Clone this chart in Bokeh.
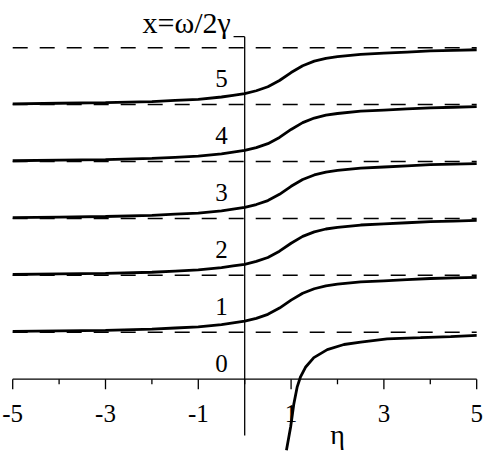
from bokeh.plotting import figure
from bokeh.models import Range1d, ColumnDataSource
from bokeh.core.properties import value
from bokeh.embed import file_html
from bokeh.resources import INLINE

# ---- data ----
eta = [-5, -4, -3, -2, -1.5, -1, -0.5, -0.25, 0, 0.25, 0.5, 0.75, 1.0, 1.25, 1.5, 1.75, 2.0, 2.5, 3.0, 3.5, 4.0, 4.5, 5.0]
curve1 = [0.84, 0.85, 0.86, 0.88, 0.90, 0.92, 0.96, 0.99, 1.02, 1.07, 1.14, 1.25, 1.39, 1.51, 1.59, 1.64, 1.67, 1.71, 1.73, 1.75, 1.77, 1.78, 1.79]
curve2 = [1.84, 1.85, 1.86, 1.88, 1.90, 1.92, 1.96, 1.99, 2.02, 2.07, 2.14, 2.25, 2.39, 2.51, 2.59, 2.64, 2.67, 2.71, 2.73, 2.75, 2.77, 2.78, 2.79]
curve3 = [2.84, 2.85, 2.86, 2.88, 2.90, 2.92, 2.96, 2.99, 3.02, 3.07, 3.14, 3.25, 3.39, 3.51, 3.59, 3.64, 3.67, 3.71, 3.73, 3.75, 3.77, 3.78, 3.79]
curve4 = [3.84, 3.85, 3.86, 3.88, 3.90, 3.92, 3.96, 3.99, 4.02, 4.07, 4.14, 4.25, 4.39, 4.51, 4.59, 4.64, 4.67, 4.71, 4.73, 4.75, 4.77, 4.78, 4.79]
curve5 = [4.84, 4.85, 4.86, 4.88, 4.90, 4.92, 4.96, 4.99, 5.02, 5.07, 5.14, 5.25, 5.39, 5.51, 5.59, 5.64, 5.67, 5.71, 5.73, 5.75, 5.77, 5.78, 5.79]

eta0 = [0.90, 0.99, 1.06, 1.13, 1.20, 1.31, 1.49, 1.78, 2.14, 2.50, 3.07, 3.79, 4.44, 5.0]
curve0 = [-1.25, -0.84, -0.43, -0.14, 0.035, 0.21, 0.38, 0.52, 0.61, 0.65, 0.71, 0.73, 0.75, 0.77]

asymptotes = [0.826, 1.826, 2.826, 3.826, 4.826, 5.826]
level_labels = ["0", "1", "2", "3", "4", "5"]
level_values = [0, 1, 2, 3, 4, 5]
x_major_ticks = [-5, -3, -1, 1, 3, 5]
x_minor_ticks = [-4, -2, 0, 2, 4]
x_tick_labels = ["-5", "-3", "-1", "1", "3", "5"]
eta_min, eta_max = -5, 5
yaxis_bottom, yaxis_top = -0.99, 6.02

FONT = value("Liberation Serif")
PX_PER_Y = 56.9  # screen pixels per y unit (for tick length conversion)

p = figure(width=485, height=452, output_backend="svg", toolbar_location=None,
           x_range=Range1d(-5.263, 5.19), y_range=Range1d(-1.288, 6.656),
           x_axis_type=None, y_axis_type=None, min_border=0)
p.outline_line_color = None
p.grid.visible = False
p.background_fill_color = "white"

# dashed asymptotes
for a in asymptotes:
    p.line([eta_min, eta_max], [a, a], line_color="black", line_width=1.5, line_dash="15 12")

# axes
p.line([eta_min, eta_max], [0, 0], line_color="black", line_width=1.3)
p.line([0, 0], [yaxis_bottom, yaxis_top], line_color="black", line_width=1.3)
p.segment(x0=[-0.24], y0=[yaxis_top], x1=[0], y1=[yaxis_top], line_color="black", line_width=1.3)

# tick marks below the x axis line
p.segment(x0=x_major_ticks, y0=[0] * len(x_major_ticks), x1=x_major_ticks,
          y1=[-10 / PX_PER_Y] * len(x_major_ticks), line_color="black", line_width=1.3)
p.segment(x0=x_minor_ticks, y0=[0] * len(x_minor_ticks), x1=x_minor_ticks,
          y1=[-5 / PX_PER_Y] * len(x_minor_ticks), line_color="black", line_width=1.3)

# curves
for c in [curve1, curve2, curve3, curve4, curve5]:
    p.line(eta, c, line_color="black", line_width=2.8)
p.line(eta0, curve0, line_color="black", line_width=2.8)

# tick labels
tsrc = ColumnDataSource(dict(x=x_major_ticks, y=[0] * len(x_major_ticks), t=x_tick_labels))
p.text(x="x", y="y", text="t", source=tsrc, text_font=FONT, text_font_size="25px",
       text_align="center", text_baseline="alphabetic", y_offset=34, text_color="black")
lsrc = ColumnDataSource(dict(x=[0] * len(level_values), y=level_values, t=level_labels))
p.text(x="x", y="y", text="t", source=lsrc, text_font=FONT, text_font_size="25px",
       text_align="right", text_baseline="alphabetic", x_offset=-17, y_offset=-16, text_color="black")

# axis titles
p.text(x=[-0.30], y=[6.116], text=["x=ω/2γ"], text_font=FONT, text_font_size="30px",
       text_align="right", text_baseline="alphabetic", y_offset=-9, text_color="black")
p.text(x=[2.0], y=[-1.0], text=["η"], text_font=FONT, text_font_size="28px",
       text_align="center", text_baseline="middle", y_offset=-2, text_color="black")

open("out.html", "w").write(file_html(p, INLINE))
